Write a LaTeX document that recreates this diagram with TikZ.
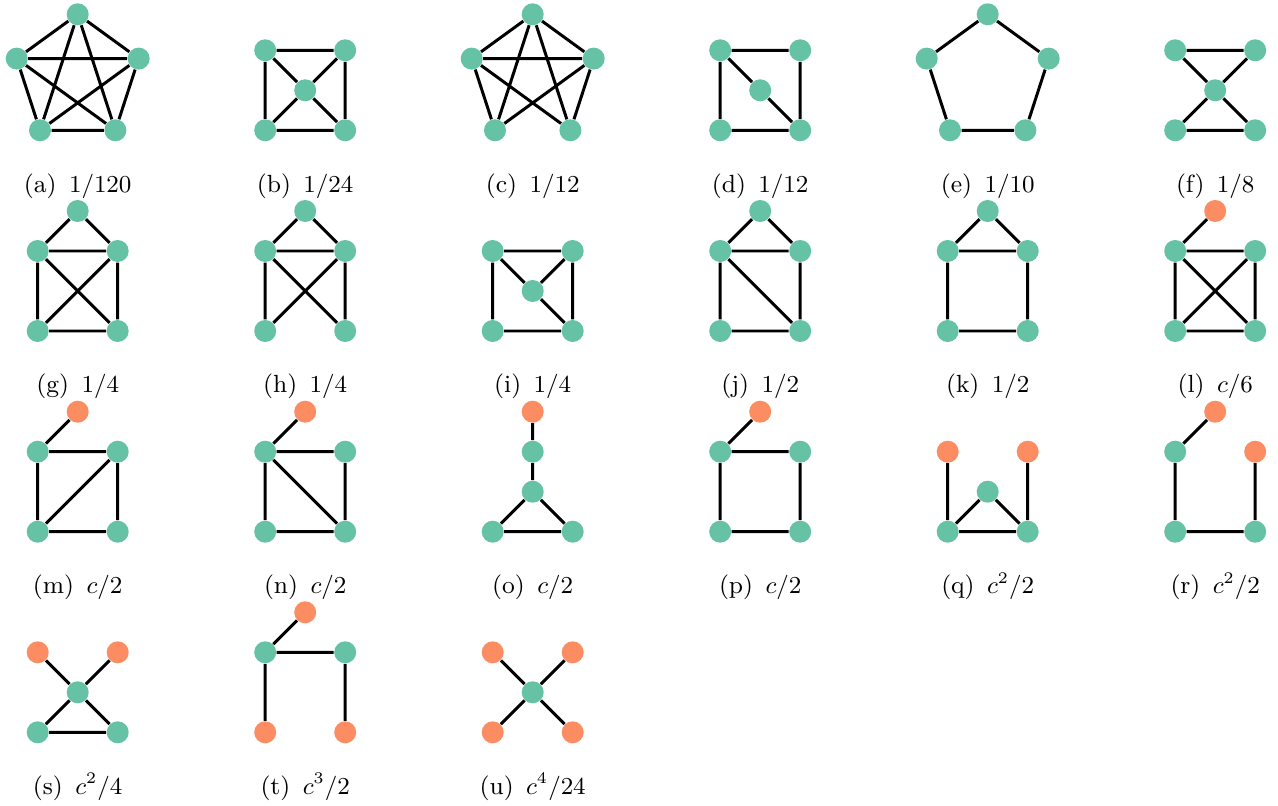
\documentclass[tikz,border=0pt]{standalone}
\definecolor{gr}{RGB}{102,194,165}
\definecolor{og}{RGB}{252,141,98}
\tikzset{
 vg/.style={circle,fill=gr,inner sep=0pt,minimum size=8.14pt},
 vo/.style={circle,fill=og,inner sep=0pt,minimum size=8.14pt},
 ed/.style={line width=1.1pt,black},
 lab/.style={anchor=base,inner sep=0pt,font=\fontsize{9.2}{11}\selectfont}
}
\begin{document}
\begin{tikzpicture}[x=0.37pt,y=-0.37pt]
\useasboundingbox (0,0) rectangle (1278,806);
% ---------- row 1 ----------
\begin{scope}[shift={(77.7,130.3)}]
\node[vg] (a1) at (0,-116) {};
\node[vg] (a2) at (-61,-71.7) {};
\node[vg] (a3) at (61,-71.7) {};
\node[vg] (a4) at (-37.7,0) {};
\node[vg] (a5) at (37.7,0) {};
\draw[ed] (a1)--(a2) (a1)--(a3) (a1)--(a4) (a1)--(a5) (a2)--(a3) (a2)--(a4) (a2)--(a5) (a3)--(a4) (a3)--(a5) (a4)--(a5);
\node[lab] (la) at (0,62) {(a)\enspace$1/120$};
\end{scope}
\begin{scope}[shift={(305.2,130.3)}]
\node[vg] (b1) at (-40,-80) {};
\node[vg] (b2) at (40,-80) {};
\node[vg] (b3) at (-40,0) {};
\node[vg] (b4) at (40,0) {};
\node[vg] (b5) at (0,-40) {};
\draw[ed] (b1)--(b2) (b2)--(b4) (b4)--(b3) (b3)--(b1) (b5)--(b1) (b5)--(b2) (b5)--(b3) (b5)--(b4);
\node[lab] (lb) at (0,62) {(b)\enspace$1/24$};
\end{scope}
\begin{scope}[shift={(532.7,130.3)}]
\node[vg] (c1) at (0,-116) {};
\node[vg] (c2) at (-61,-71.7) {};
\node[vg] (c3) at (61,-71.7) {};
\node[vg] (c4) at (-37.7,0) {};
\node[vg] (c5) at (37.7,0) {};
\draw[ed] (c1)--(c2) (c1)--(c3) (c1)--(c4) (c1)--(c5) (c2)--(c3) (c2)--(c4) (c2)--(c5) (c3)--(c4) (c3)--(c5);
\node[lab] (lc) at (0,62) {(c)\enspace$1/12$};
\end{scope}
\begin{scope}[shift={(760.2,130.3)}]
\node[vg] (d1) at (-40,-80) {};
\node[vg] (d2) at (40,-80) {};
\node[vg] (d3) at (-40,0) {};
\node[vg] (d4) at (40,0) {};
\node[vg] (d5) at (0,-40) {};
\draw[ed] (d1)--(d2) (d2)--(d4) (d4)--(d3) (d3)--(d1) (d1)--(d5) (d5)--(d4);
\node[lab] (ld) at (0,62) {(d)\enspace$1/12$};
\end{scope}
\begin{scope}[shift={(987.7,130.3)}]
\node[vg] (e1) at (0,-116) {};
\node[vg] (e2) at (-61,-71.7) {};
\node[vg] (e3) at (61,-71.7) {};
\node[vg] (e4) at (-37.7,0) {};
\node[vg] (e5) at (37.7,0) {};
\draw[ed] (e1)--(e2) (e1)--(e3) (e2)--(e4) (e3)--(e5) (e4)--(e5);
\node[lab] (le) at (0,62) {(e)\enspace$1/10$};
\end{scope}
\begin{scope}[shift={(1215.2,130.3)}]
\node[vg] (f1) at (-40,-80) {};
\node[vg] (f2) at (40,-80) {};
\node[vg] (f3) at (-40,0) {};
\node[vg] (f4) at (40,0) {};
\node[vg] (f5) at (0,-40) {};
\draw[ed] (f1)--(f2) (f3)--(f4) (f5)--(f1) (f5)--(f2) (f5)--(f3) (f5)--(f4);
\node[lab] (lf) at (0,62) {(f)\enspace$1/8$};
\end{scope}
% ---------- row 2 ----------
\begin{scope}[shift={(77.7,331)}]
\node[vg] (g0) at (0,-120) {};
\node[vg] (g1) at (-40,-80) {};
\node[vg] (g2) at (40,-80) {};
\node[vg] (g3) at (-40,0) {};
\node[vg] (g4) at (40,0) {};
\draw[ed] (g0)--(g1) (g0)--(g2) (g1)--(g2) (g1)--(g3) (g2)--(g4) (g3)--(g4) (g1)--(g4) (g2)--(g3);
\node[lab] (lg) at (0,62) {(g)\enspace$1/4$};
\end{scope}
\begin{scope}[shift={(305.2,331)}]
\node[vg] (h0) at (0,-120) {};
\node[vg] (h1) at (-40,-80) {};
\node[vg] (h2) at (40,-80) {};
\node[vg] (h3) at (-40,0) {};
\node[vg] (h4) at (40,0) {};
\draw[ed] (h0)--(h1) (h0)--(h2) (h1)--(h2) (h1)--(h3) (h2)--(h4) (h1)--(h4) (h2)--(h3);
\node[lab] (lh) at (0,62) {(h)\enspace$1/4$};
\end{scope}
\begin{scope}[shift={(532.7,331)}]
\node[vg] (i1) at (-40,-80) {};
\node[vg] (i2) at (40,-80) {};
\node[vg] (i3) at (-40,0) {};
\node[vg] (i4) at (40,0) {};
\node[vg] (i5) at (0,-40) {};
\draw[ed] (i1)--(i2) (i1)--(i3) (i2)--(i4) (i3)--(i4) (i5)--(i1) (i5)--(i2) (i5)--(i4);
\node[lab] (li) at (0,62) {(i)\enspace$1/4$};
\end{scope}
\begin{scope}[shift={(760.2,331)}]
\node[vg] (j0) at (0,-120) {};
\node[vg] (j1) at (-40,-80) {};
\node[vg] (j2) at (40,-80) {};
\node[vg] (j3) at (-40,0) {};
\node[vg] (j4) at (40,0) {};
\draw[ed] (j0)--(j1) (j0)--(j2) (j1)--(j2) (j1)--(j3) (j2)--(j4) (j3)--(j4) (j1)--(j4);
\node[lab] (lj) at (0,62) {(j)\enspace$1/2$};
\end{scope}
\begin{scope}[shift={(987.7,331)}]
\node[vg] (k0) at (0,-120) {};
\node[vg] (k1) at (-40,-80) {};
\node[vg] (k2) at (40,-80) {};
\node[vg] (k3) at (-40,0) {};
\node[vg] (k4) at (40,0) {};
\draw[ed] (k0)--(k1) (k0)--(k2) (k1)--(k2) (k1)--(k3) (k2)--(k4) (k3)--(k4);
\node[lab] (lk) at (0,62) {(k)\enspace$1/2$};
\end{scope}
\begin{scope}[shift={(1215.2,331)}]
\node[vo] (l0) at (0,-120) {};
\node[vg] (l1) at (-40,-80) {};
\node[vg] (l2) at (40,-80) {};
\node[vg] (l3) at (-40,0) {};
\node[vg] (l4) at (40,0) {};
\draw[ed] (l0)--(l1) (l1)--(l2) (l1)--(l3) (l2)--(l4) (l3)--(l4) (l1)--(l4) (l2)--(l3);
\node[lab] (ll) at (0,62) {(l)\enspace$c/6$};
\end{scope}
% ---------- row 3 ----------
\begin{scope}[shift={(77.7,531.7)}]
\node[vo] (m0) at (0,-120) {};
\node[vg] (m1) at (-40,-80) {};
\node[vg] (m2) at (40,-80) {};
\node[vg] (m3) at (-40,0) {};
\node[vg] (m4) at (40,0) {};
\draw[ed] (m0)--(m1) (m1)--(m2) (m1)--(m3) (m2)--(m4) (m3)--(m4) (m3)--(m2);
\node[lab] (lm) at (0,62) {(m)\enspace$c/2$};
\end{scope}
\begin{scope}[shift={(305.2,531.7)}]
\node[vo] (n0) at (0,-120) {};
\node[vg] (n1) at (-40,-80) {};
\node[vg] (n2) at (40,-80) {};
\node[vg] (n3) at (-40,0) {};
\node[vg] (n4) at (40,0) {};
\draw[ed] (n0)--(n1) (n1)--(n2) (n1)--(n3) (n2)--(n4) (n3)--(n4) (n1)--(n4);
\node[lab] (ln) at (0,62) {(n)\enspace$c/2$};
\end{scope}
\begin{scope}[shift={(532.7,531.7)}]
\node[vo] (o0) at (0,-120) {};
\node[vg] (o1) at (0,-80) {};
\node[vg] (o2) at (0,-40) {};
\node[vg] (o3) at (-40,0) {};
\node[vg] (o4) at (40,0) {};
\draw[ed] (o0)--(o1) (o1)--(o2) (o2)--(o3) (o2)--(o4) (o3)--(o4);
\node[lab] (lo) at (0,62) {(o)\enspace$c/2$};
\end{scope}
\begin{scope}[shift={(760.2,531.7)}]
\node[vo] (p0) at (0,-120) {};
\node[vg] (p1) at (-40,-80) {};
\node[vg] (p2) at (40,-80) {};
\node[vg] (p3) at (-40,0) {};
\node[vg] (p4) at (40,0) {};
\draw[ed] (p0)--(p1) (p1)--(p2) (p1)--(p3) (p2)--(p4) (p3)--(p4);
\node[lab] (lp) at (0,62) {(p)\enspace$c/2$};
\end{scope}
\begin{scope}[shift={(987.7,531.7)}]
\node[vo] (q1) at (-40,-80) {};
\node[vo] (q2) at (40,-80) {};
\node[vg] (q3) at (-40,0) {};
\node[vg] (q4) at (40,0) {};
\node[vg] (q5) at (0,-40) {};
\draw[ed] (q1)--(q3) (q2)--(q4) (q5)--(q3) (q5)--(q4) (q3)--(q4);
\node[lab] (lq) at (0,62) {(q)\enspace$c^2/2$};
\end{scope}
\begin{scope}[shift={(1215.2,531.7)}]
\node[vo] (r0) at (0,-120) {};
\node[vg] (r1) at (-40,-80) {};
\node[vo] (r2) at (40,-80) {};
\node[vg] (r3) at (-40,0) {};
\node[vg] (r4) at (40,0) {};
\draw[ed] (r0)--(r1) (r1)--(r3) (r3)--(r4) (r4)--(r2);
\node[lab] (lr) at (0,62) {(r)\enspace$c^2/2$};
\end{scope}
% ---------- row 4 ----------
\begin{scope}[shift={(77.7,732.3)}]
\node[vo] (s1) at (-40,-80) {};
\node[vo] (s2) at (40,-80) {};
\node[vg] (s3) at (-40,0) {};
\node[vg] (s4) at (40,0) {};
\node[vg] (s5) at (0,-40) {};
\draw[ed] (s1)--(s5) (s2)--(s5) (s5)--(s3) (s5)--(s4) (s3)--(s4);
\node[lab] (ls) at (0,62) {(s)\enspace$c^2/4$};
\end{scope}
\begin{scope}[shift={(305.2,732.3)}]
\node[vo] (t0) at (0,-120) {};
\node[vg] (t1) at (-40,-80) {};
\node[vg] (t2) at (40,-80) {};
\node[vo] (t3) at (-40,0) {};
\node[vo] (t4) at (40,0) {};
\draw[ed] (t0)--(t1) (t1)--(t2) (t1)--(t3) (t2)--(t4);
\node[lab] (lt) at (0,62) {(t)\enspace$c^3/2$};
\end{scope}
\begin{scope}[shift={(532.7,732.3)}]
\node[vo] (u1) at (-40,-80) {};
\node[vo] (u2) at (40,-80) {};
\node[vo] (u3) at (-40,0) {};
\node[vo] (u4) at (40,0) {};
\node[vg] (u5) at (0,-40) {};
\draw[ed] (u5)--(u1) (u5)--(u2) (u5)--(u3) (u5)--(u4);
\node[lab] (lu) at (0,62) {(u)\enspace$c^4/24$};
\end{scope}
\end{tikzpicture}
\end{document}
